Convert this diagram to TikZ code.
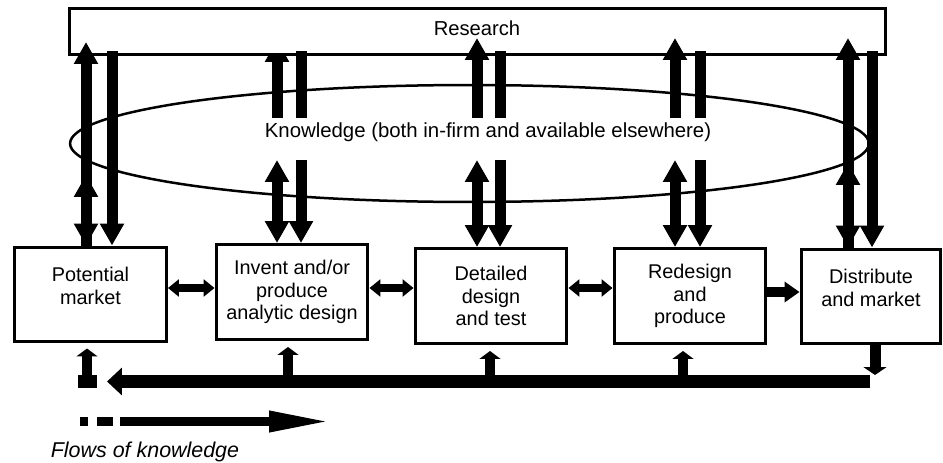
\documentclass[tikz,border=0pt]{standalone}
\usepackage{fontspec}
\setmainfont{Liberation Sans}
\usetikzlibrary{arrows.meta}
\tikzset{
  vtip/.tip={Triangle[width=0.46cm,length=0.44cm]},
  htip/.tip={Triangle[width=0.34cm,length=0.22cm]},
  stip/.tip={Triangle[width=0.4cm,length=0.3cm]},
  btip/.tip={Triangle[width=0.54cm,length=0.3cm]},
  utip/.tip={Triangle[width=0.42cm,length=0.16cm]},
  dtip/.tip={Triangle[width=0.46cm,length=0.16cm]},
  ltip/.tip={Triangle[width=0.38cm,length=1.28cm]},
  every node/.style={font=\fontsize{11.3}{12.9}\selectfont},
  stage/.style={draw, line width=0.06cm, inner sep=0pt, align=center, minimum width=3.04cm, minimum height=1.9cm},
  flow/.style={line width=0.22cm},
  side/.style={line width=0.17cm},
  feed/.style={line width=0.2cm},
  bus/.style={line width=0.26cm},
}

\begin{document}
\begin{tikzpicture}[x=0.02cm, y=-0.02cm]
\useasboundingbox (0,0) rectangle (943,463);
% stages
\node[stage] (mkt) at (90.5,294.5) {Potential\\market\\[-3pt]};
\node[stage] (inv) at (292,292) {Invent and/or\\produce\\analytic design};
\node[stage] (det) at (491,296) {Detailed\\design\\and test};
\node[stage] (red) at (690,296) {Redesign\\and\\produce};
\node[stage, minimum width=2.8cm] (dist) at (871,296.5) {Distribute\\and market\\[-3pt]};
% knowledge pool
\draw[line width=0.05cm] (469.5,143.5) ellipse [x radius=7.99cm, y radius=1.17cm];
\node[font=\fontsize{11.6}{13}\selectfont] (know) at (488,132) {Knowledge (both in-firm and available elsewhere)};
% this one goes under the research box
\draw[flow,-{vtip}] (277,118) -- (277,40);
\node[draw, fill=white, line width=0.06cm, minimum width=16.32cm, minimum height=0.92cm] (res) at (477.5,31.5) {};
\node[font=\fontsize{11.5}{13}\selectfont] (reslabel) at (477,28) {Research};
% to and from research and knowledge
\draw[flow,-{vtip}] (mkt.north -| 86,0) -- (86,42);
\draw[flow,{vtip}-{vtip}] (86,175) -- (mkt.north -| 86,0);
\draw[flow,-{vtip}] (112,51) -- (mkt.north -| 112,0);
\draw[flow,-{vtip}] (dist.north -| 848,0) -- (848,38);
\draw[flow,{vtip}-{vtip}] (848,163) -- (dist.north -| 848,0);
\draw[flow,-{vtip}] (872,51) -- (dist.north -| 872,0);
\foreach \n/\a/\b in {det/477/500, red/675/700}
  \draw[flow,-{vtip}] (\a,118) -- (\a,38);
\foreach \n/\a/\b in {inv/277/301, det/477/500, red/675/700}
{
  \draw[flow] (\b,51) -- (\b,118);
  \draw[flow,{vtip}-{vtip}] (\a,160) -- (\n.north -| \a,0);
  \draw[flow,-{vtip}] (\b,160) -- (\n.north -| \b,0);
}
% between stages
\draw[side,{htip}-{htip}] (mkt.east |- 0,288) -- (inv.west |- 0,288);
\draw[side,{htip}-{htip}] (inv.east |- 0,288) -- (det.west |- 0,288);
\draw[side,{htip}-{htip}] (det.east |- 0,288) -- (red.west |- 0,288);
\draw[feed,-{stip}] (red.east |- 0,292) -- (dist.west |- 0,292);
% feedback
\coordinate (busR) at (870,381.5);
\coordinate (busL) at (107,381.5);
\draw[flow,-{dtip}] (dist.south -| 875,0) -- (875,375);
\draw[bus,-{btip}] (busR) -- (busL);
\foreach \n/\x in {inv/288, det/490, red/683}
  \draw[feed,-{utip}, shorten >=0.12cm] (\x,375) -- (\n.south -| \x,0);
\fill (78,375) rectangle (97,388);
\draw[feed,-{utip}, shorten >=0.1cm] (87,375) -- (mkt.south -| 87,0);
% legend
\coordinate (legA) at (120,421.5);
\coordinate (legB) at (333,421.5);
\fill (80,417) rectangle (88,426);
\fill (97,417) rectangle (113,426);
\draw[line width=0.19cm,-{ltip}] (legA) -- (legB);
\node[font=\fontsize{12.2}{14}\selectfont\itshape] (legend) at (145,452) {Flows of knowledge};
\end{tikzpicture}
\end{document}
